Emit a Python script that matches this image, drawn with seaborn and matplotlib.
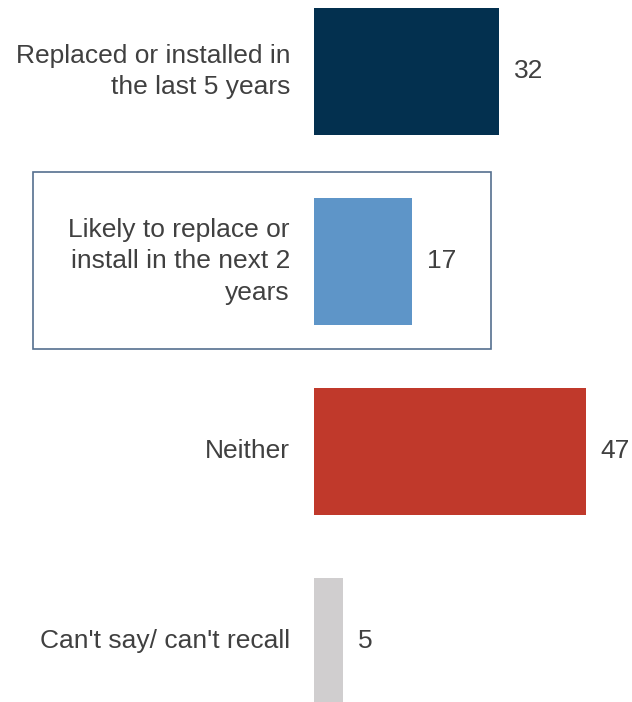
import matplotlib
matplotlib.use("Agg")
import matplotlib.pyplot as plt
import seaborn as sns
import pandas as pd
from matplotlib.patches import Rectangle

categories = [
    "Replaced or installed in\nthe last 5 years",
    "Likely to replace or\ninstall in the next 2\nyears",
    "Neither",
    "Can't say/ can't recall",
]
values = [32, 17, 47, 5]
colors = ["#03304F", "#5E95C8", "#C0392B", "#D0CECF"]

sns.set_theme(style="white")
plt.rcParams["font.family"] = ["Liberation Sans", "DejaVu Sans"]

df = pd.DataFrame({"category": categories, "value": values})

W, H = 632, 702
fig = plt.figure(figsize=(W / 100, H / 100), dpi=100)
ax = fig.add_axes([314 / W, 0, (W - 314) / W, 1])

sns.barplot(data=df, x="value", y="category", hue="category",
            palette=colors, orient="h", width=0.668, legend=False,
            saturation=1, linewidth=0, ax=ax)

px_per_unit = 5.78
ax.set_xlim(0, (W - 314) / px_per_unit)
ax.set_ylim((H - 71.5) / 190, -71.5 / 190)
ax.axis("off")

text_color = "#404040"
for i, (cat, v) in enumerate(zip(categories, values)):
    ax.text(-24 / px_per_unit, i, cat, ha="right", va="center",
            fontsize=19, color=text_color, linespacing=1.42)
    ax.text(v + 15 / px_per_unit, i, str(v), ha="left", va="center",
            fontsize=19, color=text_color)

# outline around the second category
fig.patches.append(Rectangle((33 / W, 1 - 349 / H), 458 / W, 177 / H,
                             transform=fig.transFigure, fill=False,
                             edgecolor="#55708F", linewidth=1.2))

fig.savefig("out.png", dpi=100, facecolor="white")
